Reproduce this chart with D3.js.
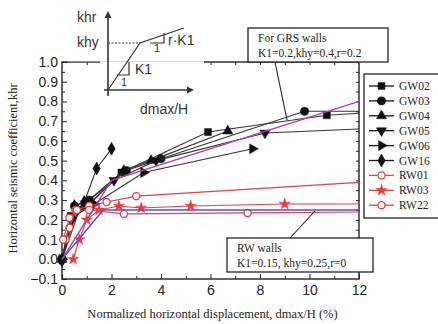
<!DOCTYPE html>
<html>
<head>
<meta charset="utf-8">
<script src="https://cdn.jsdelivr.net/npm/d3@7"></script>
<style>
  body { margin: 0; background: #fff; }
  svg { display: block; }
</style>
</head>
<body>
<div id="chart"></div>
<script>
// series data, [dmax/H (%), khr]
var gw02 = [[0,0],[0.35,0.22],[0.9,0.28],[2.4,0.44],[5.9,0.645],[10.7,0.73],[12,0.74]];
var gw03 = [[0,0],[0.5,0.27],[1.1,0.30],[2.6,0.45],[4.0,0.51],[9.8,0.75],[12,0.75]];
var gw04 = [[0,0],[0.6,0.26],[1.2,0.29],[2.5,0.45],[3.6,0.50],[6.7,0.65]];
var gw05 = [[0,-0.01],[0.4,0.20],[1.0,0.27],[2.1,0.40],[3.8,0.50],[8.2,0.64],[12,0.66]];
var gw06 = [[0,0],[0.7,0.25],[1.3,0.28],[3.3,0.44],[7.7,0.56]];
var gw16 = [[0,0],[0.5,0.27],[0.9,0.29],[1.4,0.46],[2.0,0.56]];
var rw01 = [[0.15,0.10],[0.3,0.16],[0.55,0.25],[1.1,0.27],[1.8,0.29],[3.0,0.32],[12,0.39]];
var rw03 = [[0.45,0.0],[0.7,0.10],[1.0,0.20],[1.5,0.25],[2.3,0.27],[3.2,0.26],[5.2,0.27],[9.0,0.28],[12,0.28]];
var rw22 = [[0.05,0.10],[0.3,0.21],[0.6,0.25],[1.1,0.25],[2.5,0.23],[7.5,0.235],[12,0.24]];
// bilinear model lines
var grsModel = [[0,0],[2,0.4],[12,0.8]];
var rwModel = [[0,0],[1.667,0.25],[12,0.25]];

var seriesNames = ["GW02","GW03","GW04","GW05","GW06","GW16","RW01","RW03","RW22"];
var seriesData = [gw02,gw03,gw04,gw05,gw06,gw16,rw01,rw03,rw22];
var xTicks = [0,2,4,6,8,10,12];
var yTicks = [-0.1,0.0,0.1,0.2,0.3,0.4,0.5,0.6,0.7,0.8,0.9,1.0];

var width = 438, height = 324;
var svg = d3.select("#chart").append("svg")
  .attr("width", width).attr("height", height)
  .style("font-family", "'Liberation Serif','Times New Roman',serif");

var x = d3.scaleLinear().domain([0,12]).range([62,359]);
var y = d3.scaleLinear().domain([-0.1,1.0]).range([279,62]);

var black = "#111", red = "#ee3b3b";
var styles = {
  GW02: {sym: d3.symbolSquare, size: 48, rot: 0, color: black, fill: true},
  GW03: {sym: d3.symbolCircle, size: 52, rot: 0, color: black, fill: true},
  GW04: {sym: d3.symbolTriangle, size: 44, rot: 0, color: black, fill: true},
  GW05: {sym: d3.symbolTriangle, size: 44, rot: 180, color: black, fill: true},
  GW06: {sym: d3.symbolTriangle, size: 44, rot: 90, color: black, fill: true},
  GW16: {sym: d3.symbolDiamond, size: 48, rot: 0, color: black, fill: true},
  RW01: {sym: d3.symbolCircle, size: 40, rot: 0, color: red, fill: false},
  RW03: {sym: d3.symbolStar, size: 40, rot: 0, color: red, fill: true},
  RW22: {sym: d3.symbolCircle, size: 40, rot: 0, color: red, fill: false}
};

// frame
svg.append("rect")
  .attr("x", x(0)).attr("y", y(1.0))
  .attr("width", x(12)-x(0)).attr("height", y(-0.1)-y(1.0))
  .attr("fill", "none").attr("stroke", "#222").attr("stroke-width", 1.4);

// axes, ticks inside
function styleAxis(g){
  g.select(".domain").remove();
  g.selectAll("line").attr("stroke", "#222");
  g.selectAll("text").attr("fill", "#222").style("font-size", "14px");
}
svg.append("g").attr("transform", "translate(0,"+y(-0.1)+")")
  .call(d3.axisBottom(x).tickValues(xTicks).tickFormat(d3.format("d")).tickSize(-5).tickPadding(6))
  .call(styleAxis);
svg.append("g").attr("transform", "translate(0,"+y(-0.1)+")")
  .call(d3.axisBottom(x).tickValues(d3.range(1,12,2)).tickFormat("").tickSize(-3))
  .call(styleAxis);
svg.append("g").attr("transform", "translate(0,"+y(1.0)+")")
  .call(d3.axisTop(x).tickValues(d3.range(1,12)).tickFormat("").tickSize(-3))
  .call(styleAxis);
svg.append("g").attr("transform", "translate("+x(0)+",0)")
  .call(d3.axisLeft(y).tickValues(yTicks).tickFormat(d3.format(".1f")).tickSize(-5).tickPadding(4))
  .call(styleAxis);
svg.append("g").attr("transform", "translate("+x(0)+",0)")
  .call(d3.axisLeft(y).tickValues(d3.range(-0.05,1.0,0.1)).tickFormat("").tickSize(-3))
  .call(styleAxis);
svg.append("g").attr("transform", "translate("+x(12)+",0)")
  .call(d3.axisRight(y).tickValues(d3.range(-0.05,1.0,0.05)).tickFormat("").tickSize(-3))
  .call(styleAxis);

// axis titles
svg.append("text")
  .attr("transform", "translate(14,"+((y(1.0)+y(-0.1))/2 - 2)+") rotate(-90)")
  .attr("text-anchor", "middle").attr("dominant-baseline", "middle")
  .style("font-size", "12.5px").attr("fill", "#222")
  .text("Horizontal seismic coefficient,khr");
svg.append("text")
  .attr("x", (x(0)+x(12))/2 + 2).attr("y", 318)
  .attr("text-anchor", "middle")
  .style("font-size", "12.5px").attr("fill", "#222")
  .text("Normalized horizontal displacement, dmax/H (%)");

var line = d3.line().x(d=>x(d[0])).y(d=>y(d[1]));

// test series
var series = svg.append("g").selectAll(".series")
  .data(seriesNames).enter().append("g")
  .attr("class", "series");

series.append("path")
  .attr("d", (n,i)=>line(seriesData[i]))
  .attr("fill", "none")
  .attr("stroke", n=>styles[n].color === black ? "#333" : red)
  .attr("stroke-width", 1.1);

function marker(sel, n){
  var s = styles[n];
  sel.attr("d", d3.symbol().type(s.sym).size(s.size))
    .attr("fill", s.fill ? s.color : "#fff")
    .attr("stroke", s.color)
    .attr("stroke-width", s.fill ? 0.5 : 1.3);
}

series.each(function(n,i){
  d3.select(this).selectAll("path.pt")
    .data(seriesData[i].filter(d=>d[0] < 12)).enter()
    .append("path").attr("class", "pt")
    .attr("transform", d=>"translate("+x(d[0])+","+y(d[1])+") rotate("+styles[n].rot+")")
    .call(marker, n);
});

// model lines
svg.append("path").attr("d", line(rwModel))
  .attr("fill", "none").attr("stroke", "#5a4fd0").attr("stroke-width", 1.4);
svg.append("path").attr("d", line(grsModel))
  .attr("fill", "none").attr("stroke", "#b43cb4").attr("stroke-width", 1.4);

// inset diagram of the bilinear model
var inset = svg.append("g").style("font-family", "'Liberation Sans',Arial,sans-serif");
inset.append("rect").attr("x", 68).attr("y", 0).attr("width", 136).attr("height", 61.3).attr("fill", "#fff");
inset.append("rect").attr("x", 100).attr("y", 61.3).attr("width", 104).attr("height", 55).attr("fill", "#fff");
inset.append("line").attr("x1",108).attr("y1",96).attr("x2",108).attr("y2",16).attr("stroke","#333").attr("stroke-width",1.6);
inset.append("line").attr("x1",104).attr("y1",90).attr("x2",189).attr("y2",90).attr("stroke","#333").attr("stroke-width",1.6);
inset.append("path").attr("d","M104.5,18 L108,11 L111.5,18 Z").attr("fill","#333");
inset.append("path").attr("d","M187,86.5 L194,90 L187,93.5 Z").attr("fill","#333");
inset.append("line").attr("x1",108).attr("y1",43).attr("x2",140).attr("y2",43).attr("stroke","#333").attr("stroke-dasharray","2,1.5");
inset.append("path").attr("d","M108,90 L140,43 L184,28").attr("fill","none").attr("stroke","#333").attr("stroke-width",1.2);
inset.append("path").attr("d","M117,75 L129,75 L129,62").attr("fill","none").attr("stroke","#333").attr("stroke-width",1.2);
inset.append("path").attr("d","M150,43 L164,43 L164,33").attr("fill","none").attr("stroke","#333").attr("stroke-width",1.2);
var insetText = [["khr",77,22],["khy",77,47],["K1",135,74],["1",121,86],["r\u00b7K1",168,45],["1",154,52],["dmax/H",140,114]];
inset.selectAll("text.lbl").data(insetText).enter().append("text")
  .attr("class","lbl")
  .attr("x", d=>d[1]).attr("y", d=>d[2])
  .style("font-size", d=>d[0]==="1" ? "11px" : "14px")
  .attr("fill", "#333")
  .text(d=>d[0]);

// annotation boxes
function note(x0, y0, w, h, lines, ax1, ay1, ax2, ay2){
  svg.append("line").attr("x1",ax1).attr("y1",ay1).attr("x2",ax2).attr("y2",ay2)
    .attr("stroke","#222").attr("stroke-width",1.1);
  svg.append("rect").attr("x",x0).attr("y",y0).attr("width",w).attr("height",h)
    .attr("fill","#fff").attr("stroke","#222").attr("stroke-width",1.3);
  svg.selectAll(null).data(lines).enter().append("text")
    .attr("x", x0+10).attr("y", (d,i)=>y0+14+i*15)
    .style("font-size","11.5px").attr("fill","#222")
    .text(d=>d);
}
note(248, 28, 140, 34, ["For GRS walls","K1=0.2,khy=0.4,r=0.2"], 275, 62, 287, 120);
note(227, 238, 146, 34, ["RW walls","K1=0.15, khy=0.25,r=0"], 290, 238, 315, 211);

// legend
var legend = svg.append("g");
legend.append("rect").attr("x", 364).attr("y", 74).attr("width", 80).attr("height", 144)
  .attr("fill","#fff").attr("stroke","#222").attr("stroke-width",1.3);
var items = legend.selectAll(".item").data(seriesNames).enter().append("g")
  .attr("class","item")
  .attr("transform", (n,i)=>"translate(0,"+(86+i*14.9)+")");
items.append("line").attr("x1",369).attr("x2",394)
  .attr("stroke", n=>styles[n].color).attr("stroke-width",1.3);
items.append("path")
  .attr("transform", n=>"translate(381.5,0) rotate("+styles[n].rot+")")
  .each(function(n){ d3.select(this).call(marker, n); });
items.append("text").attr("x",399).attr("y",4)
  .style("font-size","11.5px").attr("fill","#222")
  .text(n=>n);
</script>
</body>
</html>
